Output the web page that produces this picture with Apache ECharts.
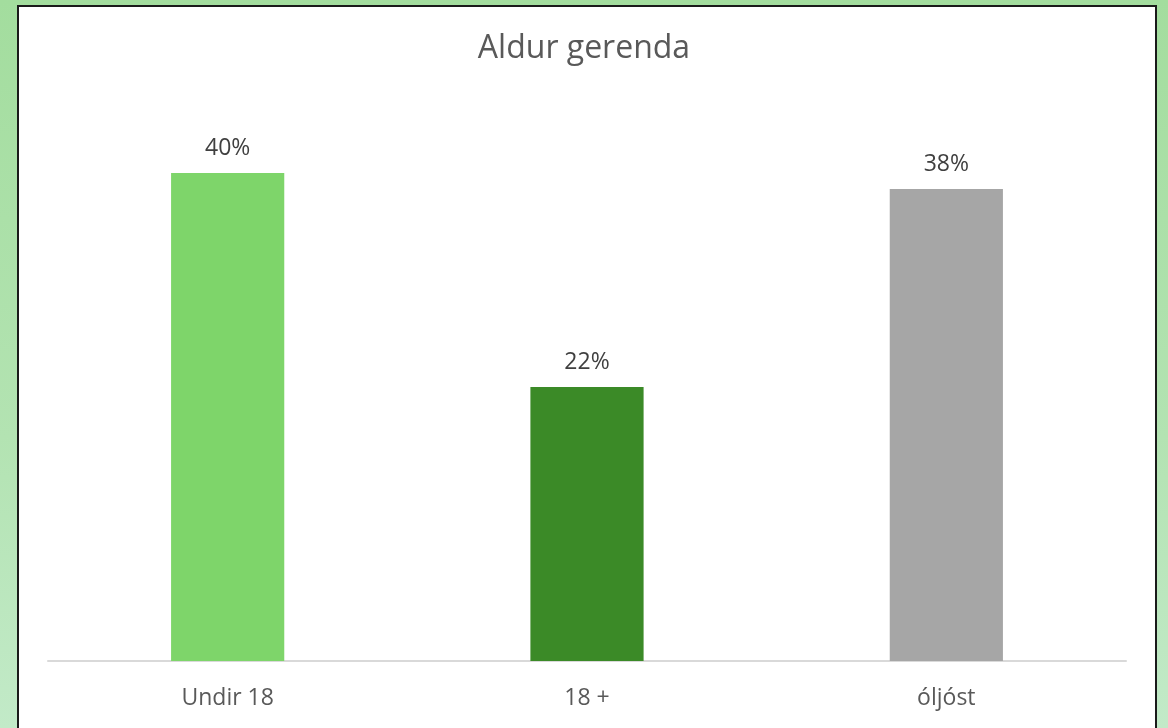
<!DOCTYPE html>
<html>
<head>
<meta charset="utf-8">
<script src="https://cdn.jsdelivr.net/npm/echarts@6/dist/echarts.min.js"></script>
<style>
  html, body { margin: 0; padding: 0; width: 1168px; height: 728px; overflow: hidden; }
  body { background: linear-gradient(to bottom, #a3dd9e 0%, #b3e3b2 60%, #c2eac8 100%); position: relative; }
  #panel { position: absolute; left: 17px; top: 5px; width: 1136px; height: 740px; background: #fff; border: 2px solid #1a1a1a; }
  #chart { position: absolute; left: 0; top: 0; width: 1168px; height: 728px; }
</style>
</head>
<body>
<div id="panel"></div>
<div id="chart"></div>
<script>
var categories = ['Undir 18', '18 +', 'óljóst'];
var values = [39.55, 22.2, 38.25];
var barColors = ['#7ed56a', '#3b8a27', '#a6a6a6'];

var chart = echarts.init(document.getElementById('chart'));

var option = {
    backgroundColor: 'transparent',
    animation: false,
    title: {
        text: 'Aldur gerenda',
        left: 'center',
        top: 28,
        textStyle: {
            fontFamily: 'Open Sans',
            fontSize: 32,
            fontWeight: 'normal',
            color: '#595959'
        }
    },
    grid: {
        left: 48,
        right: 42,
        top: 105.7,
        bottom: 67
    },
    xAxis: {
        type: 'category',
        data: categories,
        axisLine: { lineStyle: { color: '#d9d9d9', width: 2 } },
        axisTick: { show: false },
        axisLabel: {
            margin: 26,
            fontFamily: 'Open Sans',
            fontSize: 23,
            color: '#595959'
        }
    },
    yAxis: {
        type: 'value',
        min: 0,
        max: 45,
        show: false,
        splitLine: { show: false }
    },
    series: [{
        type: 'bar',
        barWidth: '31.5%',
        data: values.map(function (v, i) {
            return { value: v, itemStyle: { color: barColors[i] } };
        }),
        label: {
            show: true,
            position: 'top',
            distance: 13,
            fontFamily: 'Open Sans',
            fontSize: 23,
            color: '#404040',
            formatter: function (p) {
                return Math.round(p.value) + '%';
            }
        }
    }]
};

chart.setOption(option);
</script>
</body>
</html>
